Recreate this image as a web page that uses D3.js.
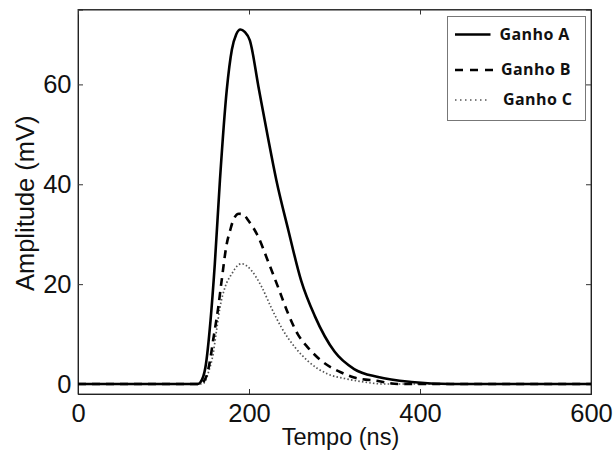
<!DOCTYPE html>
<html>
<head>
<meta charset="utf-8">
<script src="https://cdn.jsdelivr.net/npm/d3@7"></script>
<style>
  body { margin: 0; background: #fff; }
  svg { display: block; }
</style>
</head>
<body>
<div id="chart"></div>
<script>
// data: time (ns) and amplitude (mV)
var tempoA = [0, 140, 143, 149, 155, 160, 166, 174, 180, 185, 190, 195, 201, 211, 222, 232, 246, 261, 277, 300, 323, 351, 390, 436, 600];
var ganhoA = [0, 0, 0.3, 3.3, 12.7, 24, 40.8, 58.9, 67, 70, 71, 70.5, 68.8, 59.6, 49.5, 40.8, 30.8, 20.7, 13.6, 6.5, 3.0, 1.4, 0.4, 0, 0];

var tempoB = [0, 143, 147, 151, 155, 158, 164, 168, 174, 178, 182, 188, 193, 199, 211, 222, 234, 246, 257, 269, 285, 308, 323, 351, 374, 600];
var ganhoB = [0, 0, 0.5, 2, 5.3, 8.7, 15.3, 20.7, 28.1, 30.8, 33, 34.1, 34, 32.8, 29.4, 24.7, 19.4, 14.0, 10.0, 7.3, 4.6, 2.3, 1.3, 0.6, 0, 0];

var tempoC = [0, 145, 149, 153, 158, 162, 166, 172, 180, 186, 191, 197, 203, 215, 226, 238, 254, 269, 292, 312, 331, 358, 600];
var ganhoC = [0, 0, 0.6, 2.6, 6.0, 10.7, 15.3, 19.4, 22.1, 23.6, 24.1, 23.7, 22.7, 19.4, 15.3, 11.3, 7.3, 4.6, 2.0, 1.1, 0.5, 0, 0];

var seriesNames = ["Ganho A", "Ganho B", "Ganho C"];
var xTicks = [0, 200, 400, 600];
var yTicks = [0, 20, 40, 60];

var W = 616, H = 455;
var margin = { top: 9.5, right: 25, bottom: 61, left: 78 },
    width = W - margin.left - margin.right,
    height = H - margin.top - margin.bottom;

var svg = d3.select("#chart")
    .append("svg")
    .attr("width", W)
    .attr("height", H)
    .append("g")
    .attr("transform", "translate(" + margin.left + "," + margin.top + ")");

var x = d3.scaleLinear().domain([0, 600]).range([0, width]);
var y = d3.scaleLinear().domain([-2, 75]).range([height, 0]);

// frame
svg.append("rect")
    .attr("x", 0).attr("y", 0)
    .attr("width", width).attr("height", height)
    .style("fill", "none")
    .style("stroke", "#444")
    .style("stroke-width", 1);

// axes, ticks pointing inward
svg.append("g")
    .attr("transform", "translate(0," + height + ")")
    .call(d3.axisBottom(x).tickValues(xTicks).tickSize(-5).tickPadding(10));
svg.append("g")
    .call(d3.axisLeft(y).tickValues(yTicks).tickSize(-5).tickPadding(6.5));
svg.append("g")
    .call(d3.axisTop(x).tickValues(xTicks).tickSize(-5).tickFormat(""));
svg.append("g")
    .attr("transform", "translate(" + width + ",0)")
    .call(d3.axisRight(y).tickValues(yTicks).tickSize(-5).tickFormat(""));

svg.selectAll(".domain").style("stroke", "#222");
svg.selectAll(".tick line").style("stroke", "#333");
svg.selectAll(".tick text")
    .style("font-family", "'Liberation Sans', Arial, sans-serif")
    .style("font-size", "25.5px")
    .style("fill", "#111");

// axis labels
svg.append("text")
    .attr("x", width / 2 + 6)
    .attr("y", height + 51)
    .style("text-anchor", "middle")
    .style("font-family", "'Liberation Sans', Arial, sans-serif")
    .style("font-size", "23.5px")
    .style("fill", "#111")
    .text("Tempo (ns)");

svg.append("text")
    .attr("transform", "translate(" + (-44) + "," + (height / 2 + 1.5) + ") rotate(-90)")
    .style("text-anchor", "middle")
    .style("font-family", "'Liberation Sans', Arial, sans-serif")
    .style("font-size", "25.5px")
    .style("fill", "#111")
    .text("Amplitude (mV)");

// curves
var line = d3.line()
    .x(function (d) { return x(d[0]); })
    .y(function (d) { return y(d[1]); })
    .curve(d3.curveMonotoneX);

var styles = [
    { stroke: "#000", width: 2.6, dash: null },
    { stroke: "#000", width: 2.6, dash: "8,6" },
    { stroke: "#555", width: 1.7, dash: "1.5,2.2" }
];

var data = [d3.zip(tempoA, ganhoA), d3.zip(tempoB, ganhoB), d3.zip(tempoC, ganhoC)];

// draw C first so A lies on top at the baseline
[2, 1, 0].forEach(function (i) {
    var s = styles[i];
    svg.append("path")
        .datum(data[i])
        .attr("d", line)
        .style("fill", "none")
        .style("stroke", s.stroke)
        .style("stroke-width", s.width)
        .style("stroke-dasharray", s.dash);
});

// legend
var legend = svg.append("g")
    .attr("transform", "translate(" + (447.5 - margin.left) + "," + (16.5 - margin.top) + ")");

legend.append("rect")
    .attr("width", 138).attr("height", 104)
    .style("fill", "#fff")
    .style("stroke", "#777")
    .style("stroke-width", 1);

var legY = [18, 53.5, 83.5];
var legX2 = [43, 45.5, 41.5];
var legText = [52, 53.5, 55.5];
var legDash = [null, "8,7", "1.5,3.5"];
seriesNames.forEach(function (name, i) {
    var s = styles[i];
    legend.append("line")
        .attr("x1", 7.5).attr("x2", legX2[i])
        .attr("y1", legY[i]).attr("y2", legY[i])
        .style("stroke", s.stroke)
        .style("stroke-width", s.width)
        .style("stroke-dasharray", legDash[i]);
    legend.append("text")
        .attr("x", legText[i])
        .attr("y", legY[i] + 5.2)
        .style("font-family", "'Open Sans', sans-serif")
        .style("font-weight", "bold")
        .style("font-size", "16px")
        .style("letter-spacing", "0.4px")
        .style("fill", "#111")
        .text(name);
});
</script>
</body>
</html>
